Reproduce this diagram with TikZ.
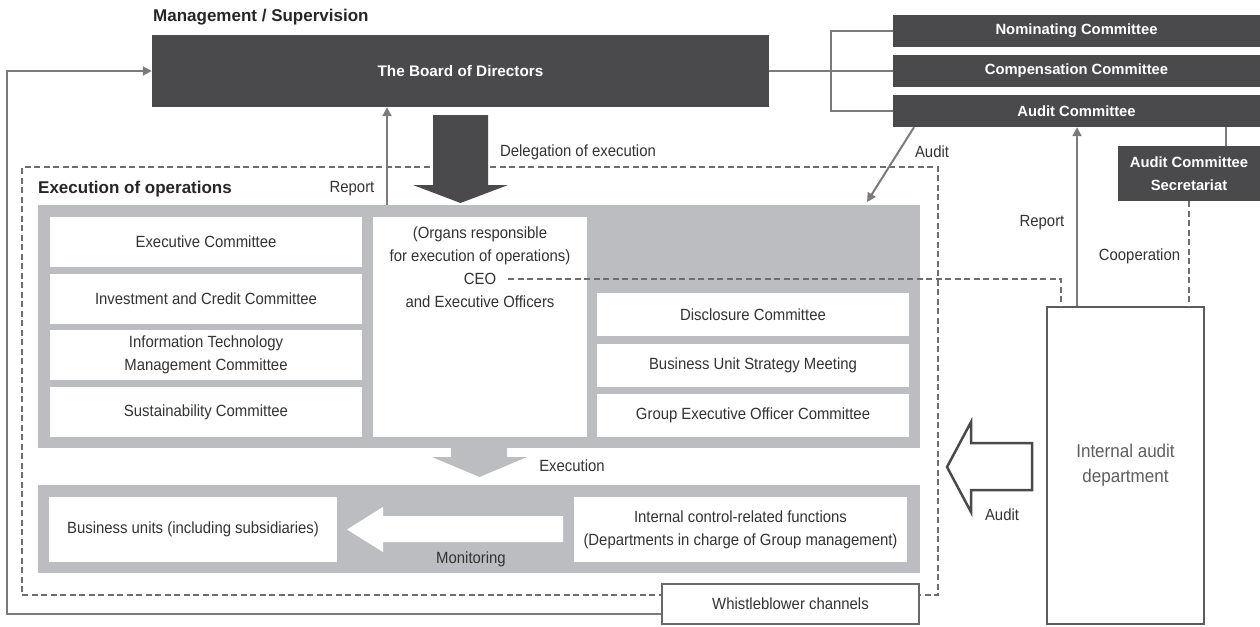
\documentclass[tikz,border=0pt]{standalone}
\usepackage{fontspec}
\setmainfont{Liberation Sans}
\newfontfamily\narrowfont[FakeStretch=0.92]{Liberation Sans}
\usetikzlibrary{arrows.meta,calc}
\definecolor{dk}{HTML}{4A4A4C}
\definecolor{gr}{HTML}{BCBDC0}
\definecolor{ln}{HTML}{7B7B7B}
\definecolor{txt}{HTML}{333333}
\definecolor{dsh}{HTML}{6E6E6E}
\definecolor{iadtxt}{HTML}{5E5E5E}
\begin{document}
\begin{tikzpicture}[x=1pt,y=-1pt,
  darkbox/.style={fill=dk, text=white, font=\bfseries\fontsize{14.8}{23}\selectfont, inner sep=0pt, align=center},
  whitebox/.style={fill=white, text=txt, font=\narrowfont\fontsize{16.2}{23}\selectfont, inner sep=0pt, align=center},
  graybox/.style={fill=gr, inner sep=0pt, anchor=north west},
  lbl/.style={text=txt, font=\narrowfont\fontsize{16.2}{23}\selectfont, inner sep=0pt, align=center},
  heading/.style={text=black!85, font=\bfseries\fontsize{17}{20}\selectfont, inner sep=0pt, anchor=west},
  conn/.style={draw=ln, line width=2pt},
  arr/.style={conn, -{Triangle[length=9pt,width=9pt]}},
  dashline/.style={draw=dsh, line width=2.2pt, dash pattern=on 6pt off 3.5pt},
]
\useasboundingbox (0,0) rectangle (1260,626);

% headings
\node[heading] (mgmt) at (153,17) {Management / Supervision};

% board and committees
\node[darkbox, minimum width=617pt, minimum height=72pt, font=\bfseries\fontsize{15.3}{18}\selectfont] (board) at (460.5,71) {The Board of Directors};
\node[darkbox, minimum width=367pt, minimum height=32pt] (nom) at (1076.5,31) {Nominating Committee};
\node[darkbox, minimum width=367pt, minimum height=32pt] (comp) at (1076.5,71) {Compensation Committee};
\node[darkbox, minimum width=367pt, minimum height=32pt] (aud) at (1076.5,111) {Audit Committee};
\node[darkbox, minimum width=142pt, minimum height=55pt] (sec) at (1189,173.5) {Audit Committee\\Secretariat};

% execution of operations frame
\node[dashline, minimum width=916pt, minimum height=428pt, inner sep=0pt, anchor=north west] (ops) at (21,166) {};
\node[heading] (eoo) at (38,189) {Execution of operations};

% upper gray area
\node[graybox, minimum width=882pt, minimum height=243pt] (exec) at (38,205) {};
\node[whitebox, minimum width=312pt, minimum height=50pt] (ec) at (206,242) {Executive Committee};
\node[whitebox, minimum width=312pt, minimum height=50pt] (icc) at (206,298.5) {Investment and Credit Committee};
\node[whitebox, minimum width=312pt, minimum height=50pt] (itc) at (206,355) {Information Technology\\Management Committee};
\node[whitebox, minimum width=312pt, minimum height=50pt] (sc) at (206,412) {Sustainability Committee};
\node[whitebox, minimum width=214pt, minimum height=220pt, anchor=north] (ceo) at (480,217) {};
\node[lbl, anchor=center] (ceotxt) at (480,267) {(Organs responsible\\for execution of operations)\\CEO\\and Executive Officers};
\node[whitebox, minimum width=312pt, minimum height=43pt] (dc) at (753,314.5) {Disclosure Committee};
\node[whitebox, minimum width=312pt, minimum height=43pt] (bus) at (753,365) {Business Unit Strategy Meeting};
\node[whitebox, minimum width=312pt, minimum height=43pt] (geo) at (753,415.5) {Group Executive Officer Committee};

% lower gray band
\node[graybox, minimum width=882pt, minimum height=88pt] (mon) at (38,485) {};
\node[whitebox, minimum width=288pt, minimum height=65pt] (bu) at (193,529.5) {Business units (including subsidiaries)};
\node[whitebox, minimum width=333pt, minimum height=65pt] (icf) at (740.5,529.5) {Internal control-related functions\\(Departments in charge of Group management)};

% whistleblower and internal audit
\node[whitebox, draw=ln!85!black, line width=1.5pt, minimum width=257pt, minimum height=40pt] (wb) at (790.5,604) {Whistleblower channels};
\node[draw=dk!90, line width=2pt, fill=white, minimum width=157pt, minimum height=317pt, inner sep=0pt, text=iadtxt, font=\narrowfont\fontsize{18.5}{25}\selectfont, align=center] (iad) at (1125.5,465.5) {Internal audit\\department};

% big arrows
\fill[dk] (433,115) -- (488,115) -- (488,185) -- (508,185) -- (460.5,203) -- (413,185) -- (433,185) -- cycle;
\fill[gr] (451,447) -- (507,447) -- (507,457) -- (527,457) -- (479.5,477) -- (432,457) -- (451,457) -- cycle;
\fill[white] (563,516) -- (563,542) -- (383,542) -- (383,552) -- (347,529.5) -- (383,507) -- (383,516) -- cycle;
\draw[draw=dk, line width=2.5pt, fill=white] (1032,443) -- (1032,490) -- (971,490) -- (971,512) -- (947,467) -- (971,422) -- (971,443) -- cycle;

% connectors
\coordinate (repx) at (387,0);
\coordinate (rrx) at (1077,0);
\coordinate (ceoend) at (508,279);
\coordinate (auditend) at (867,202);
\draw[conn] (board.east) -- (comp.west);
\draw[conn] (nom.west) -- ++(-62,0) |- (aud.west);
\draw[conn] ([xshift=37pt]sec.north) -- ([xshift=37pt]sec.north |- aud.south);
\draw[arr] ([xshift=-162.5pt]aud.south) -- (auditend);
\draw[arr] (exec.north -| repx) -- (board.south -| repx);
\draw[arr] (iad.north -| rrx) -- (aud.south -| rrx);
\draw[dashline] (sec.south) -- (sec.south |- iad.north);
\draw[dashline] (ceoend) -| ([xshift=-64.5pt]iad.north);
\draw[arr] ([yshift=-10pt]wb.west) -| (7,71) -- (board.west);

% labels
\node[lbl] (lrep) at (352,189) {Report};
\node[lbl] (ldel) at (578,152) {Delegation of execution};
\node[lbl] (laud1) at (932,152) {Audit};
\node[lbl] (lrep2) at (1042,223) {Report};
\node[lbl] (lcoop) at (1139.5,256) {Cooperation};
\node[lbl] (lexe) at (572,466) {Execution};
\node[lbl] (lmon) at (471,559) {Monitoring};
\node[lbl] (laud2) at (1002,515) {Audit};
\end{tikzpicture}
\end{document}
